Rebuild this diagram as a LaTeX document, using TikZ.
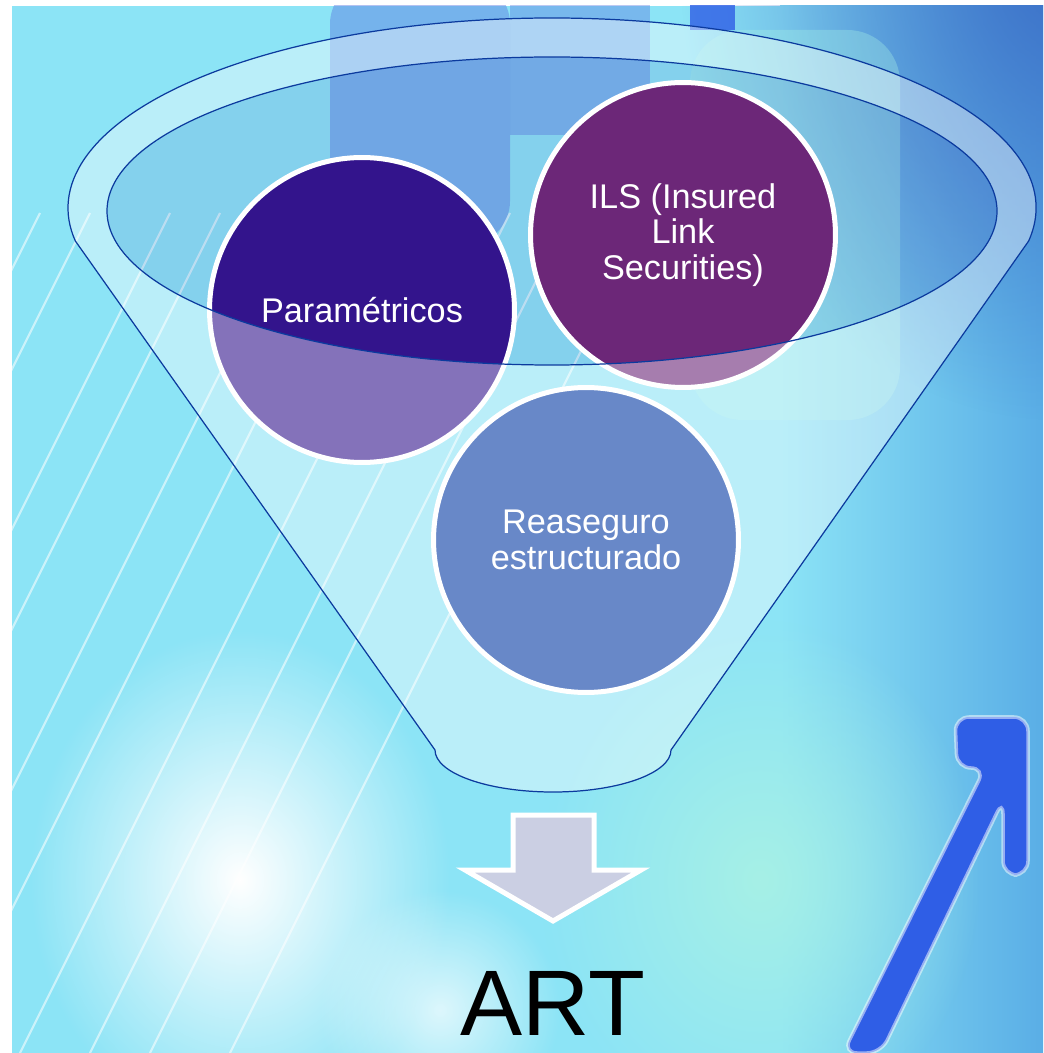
\documentclass[tikz,border=0pt]{standalone}
\usepackage{fontspec}
\setmainfont{Liberation Sans}
\usetikzlibrary{fadings}

\definecolor{parcol}{HTML}{33148C}
\definecolor{ilscol}{HTML}{6C2778}
\definecolor{reacol}{HTML}{6888C8}
\definecolor{linea}{HTML}{0B3A9E}
\definecolor{flecha}{HTML}{CBCFE3}
\definecolor{fondoA}{HTML}{8CE4F6}
\definecolor{fondoC}{HTML}{5AAEE6}
\definecolor{fondoD}{HTML}{3C70C8}
\definecolor{azulA}{HTML}{5A78E0}
\definecolor{azulB}{HTML}{2F5EE6}
\definecolor{menta}{HTML}{A6F0E6}

\tikzfading[name=glow, inner color=transparent!0, outer color=transparent!100]

\begin{document}
\begin{tikzpicture}[x=0.02cm, y=-0.02cm,
	bola/.style={circle, draw=white, line width=0.1cm, minimum size=6.1cm, text=white, align=center, font=\fontsize{19.5}{20.2}\selectfont},
	embudo/.style={draw=linea, line width=0.7pt}]
\useasboundingbox (0,0) rectangle (1043,1053);
\fill [white] (0,0) rectangle (1043,1053);

% fondo
\begin{scope}
\clip (12,6) rectangle (1043,1053);
\fill [fondoA] (12,6) rectangle (1043,1053);
\shade [left color=fondoA, right color=fondoC] (780,6) rectangle (1043,1053);
\fill [fondoD, path fading=glow] (1060,-40) ellipse [x radius=380, y radius=460];
\fill [menta, opacity=.35, rounded corners=30] (690,30) rectangle (900,420);
\fill [menta, path fading=glow] (760,880) ellipse [x radius=220, y radius=260];
\fill [azulA, opacity=.45, rounded corners=25] (330,-20) rectangle (510,245);
\fill [azulA, opacity=.4] (510,-20) rectangle (650,135);
\fill [azulB, opacity=.8] (690,0) rectangle (735,30);
\fill [white, path fading=glow] (240,880) ellipse [x radius=210, y radius=250];
\fill [white, opacity=.7, path fading=glow] (440,1010) ellipse [x radius=120, y radius=120];
\foreach \x in {-380,-330,-250,-200,-120,-60,20,90,150,230}{
	\draw [white, opacity=.55, line width=1.2pt] (\x,1053) -- ++(420,-840);
	}
\draw [white, draw opacity=.5, line width=2pt, rounded corners=8, fill=azulB] (843,1053) -- (985,768) -- (957,768) -- (955,717) -- (1028,717) -- (1028,875) -- (1003,875) -- (1003,800) -- (881,1053) -- cycle;
\end{scope}

% embudo
\fill [blue!40!gray, opacity=.12] (552,211) ellipse [x radius=445, y radius=154];

\node [bola, fill=parcol] (par) at (362,310) {Paramétricos};
\node [bola, fill=ilscol] (ils) at (683,235) {ILS (Insured\\Link\\Securities)};

\fill [white, fill opacity=.4, even odd rule] (552,208) ++(10:484 and 190) arc [start angle=10, end angle=-190, x radius=484, y radius=190] -- (435,750) arc [start angle=180, end angle=0, x radius=118, y radius=42] -- cycle (552,211) ellipse [x radius=445, y radius=154];
\draw [embudo] (552,208) ++(10:484 and 190) arc [start angle=10, end angle=-190, x radius=484, y radius=190] -- (435,750) arc [start angle=180, end angle=0, x radius=118, y radius=42] -- cycle;
\draw [embudo] (552,211) ellipse [x radius=445, y radius=154];

\node [bola, fill=reacol] (rea) at (586,540) {Reaseguro\\estructurado};

% flecha
\draw [white, line width=0.1cm, fill=flecha] (513,815) -- (594,815) -- (594,870) -- (641,870) -- (553,921) -- (465,870) -- (513,870) -- cycle;

\node [anchor=base, font=\fontsize{53}{60}\selectfont] (art) at (553,1035) {ART};

\end{tikzpicture}
\end{document}
